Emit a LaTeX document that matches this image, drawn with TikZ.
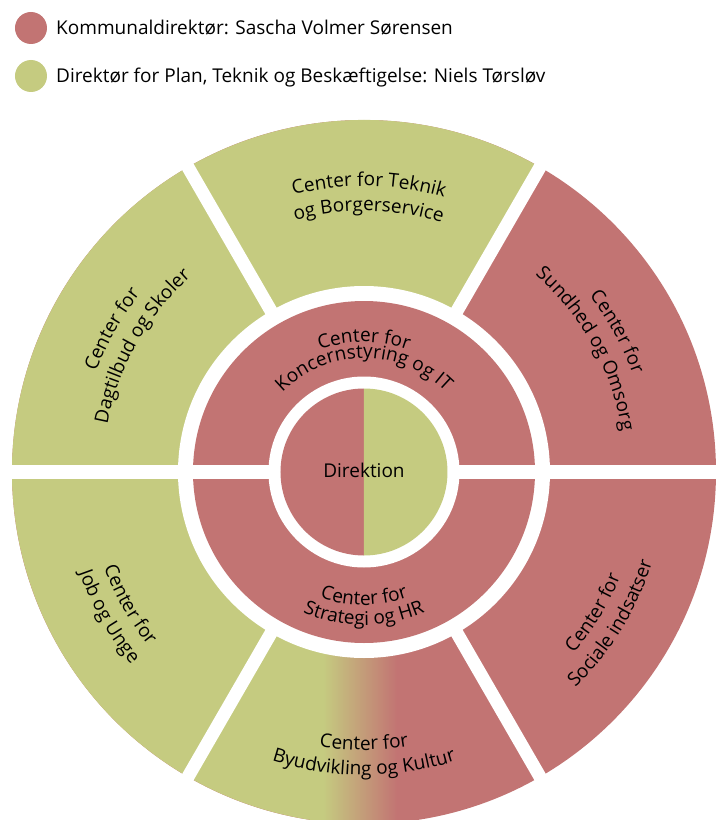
\documentclass[tikz,border=0pt]{standalone}
\usepackage{fontspec}
\setmainfont{Open Sans}
\usetikzlibrary{decorations.text}

\definecolor{kdred}{RGB}{194,116,115}
\definecolor{dirgreen}{RGB}{197,203,128}
\newcommand\ringfont{\fontsize{19}{23}\selectfont}

\begin{document}
\begin{tikzpicture}[x=1pt,y=1pt,
  gap/.style={draw=white,line width=13pt},
  hgap/.style={draw=white,line width=14pt},
  ringtext/.style={decorate,decoration={text along path,text align=center,
    text={|\ringfont|#1}}}]
\useasboundingbox (-364,-348) rectangle (359,472);

% legend
\node[circle,fill=kdred,minimum size=32pt,inner sep=0] (kd) at (-333,444) {};
\node[anchor=base west,inner sep=0,font=\ringfont] (kdtext) at (-308,437) {Kommunaldirektør: Sascha Volmer Sørensen};
\node[circle,fill=dirgreen,minimum size=32pt,inner sep=0] (dir) at (-333,396) {};
\node[anchor=base west,inner sep=0,font=\ringfont] (dirtext) at (-308,389) {Direktør for Plan, Teknik og Beskæftigelse: Niels Tørsløv};

% outer ring
\fill[kdred] (0,0) circle[radius=352];
\fill[dirgreen] (0,0) -- (60:352) arc[start angle=60,end angle=240,radius=352] -- cycle;
\begin{scope}
  \clip (0,0) -- (240:352) arc[start angle=240,end angle=300,radius=352] -- cycle;
  \fill[dirgreen] (-360,-360) rectangle (-41,0);
  \shade[left color=dirgreen,right color=kdred] (-41,-360) rectangle (33,0);
\end{scope}
\draw[gap] (60:360) -- (240:360);
\draw[gap] (120:360) -- (300:360);
\draw[hgap] (180:360) -- (0:360);
\fill[white] (0,0) circle[radius=186];

% middle ring
\fill[kdred] (0,0) circle[radius=171];
\draw[hgap] (180:172) -- (0:172);
\fill[white] (0,0) circle[radius=95.5];

% inner circle
\fill[kdred] (90:83.5) arc[start angle=90,end angle=270,radius=83.5] -- cycle;
\fill[dirgreen] (-90:83.5) arc[start angle=-90,end angle=90,radius=83.5] -- cycle;
\node[anchor=base,inner sep=0,font=\ringfont] (direktion) at (0,-5) {Direktion};

% middle ring labels
\path[ringtext={Center for}] (150:130) arc[start angle=150,end angle=30,radius=130];
\path[ringtext={Koncernstyring og IT}] (160:114) arc[start angle=160,end angle=20,radius=114];
\path[ringtext={Center for}] (210:133) arc[start angle=210,end angle=330,radius=133];
\path[ringtext={Strategi og HR}] (210:153) arc[start angle=210,end angle=330,radius=153];

% outer ring labels
\path[ringtext={Center for Teknik}] (119:286) arc[start angle=119,end angle=59,radius=286];
\path[ringtext={og Borgerservice}] (119:261) arc[start angle=119,end angle=59,radius=261];
\path[ringtext={Center for}] (180.5:286) arc[start angle=180.5,end angle=120.5,radius=286];
\path[ringtext={Dagtilbud og Skoler}] (180.5:261) arc[start angle=180.5,end angle=120.5,radius=261];
\path[ringtext={Center for}] (59:286) arc[start angle=59,end angle=-1,radius=286];
\path[ringtext={Sundhed og Omsorg}] (59:261) arc[start angle=59,end angle=-1,radius=261];
\path[ringtext={Center for}] (179.5:277) arc[start angle=179.5,end angle=239.5,radius=277];
\path[ringtext={Job og Unge}] (179.5:302) arc[start angle=179.5,end angle=239.5,radius=302];
\path[ringtext={Center for}] (240:278) arc[start angle=240,end angle=300,radius=278];
\path[ringtext={Byudvikling og Kultur}] (240:303) arc[start angle=240,end angle=300,radius=303];
\path[ringtext={Center for}] (298.5:277) arc[start angle=298.5,end angle=358.5,radius=277];
\path[ringtext={Sociale indsatser}] (298.5:302) arc[start angle=298.5,end angle=358.5,radius=302];
\end{tikzpicture}
\end{document}
